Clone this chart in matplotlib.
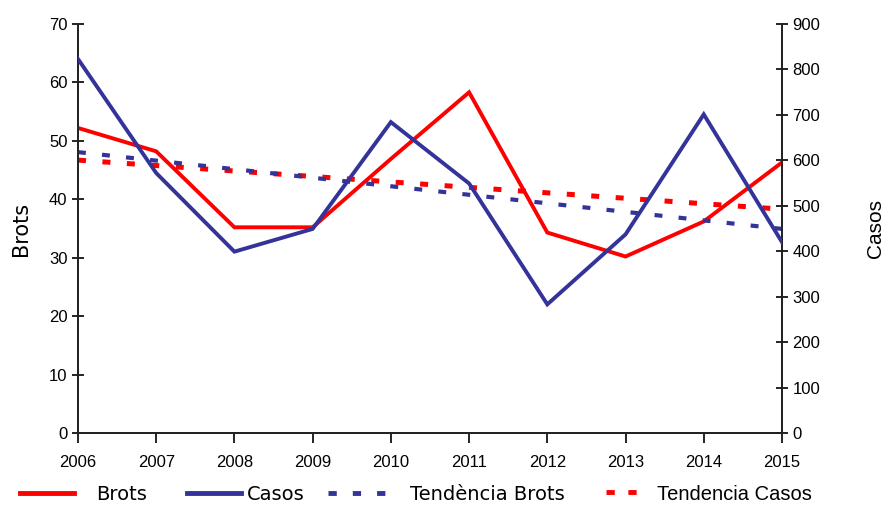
import matplotlib
matplotlib.use("Agg")
import matplotlib.pyplot as plt
from matplotlib.lines import Line2D

# --------------------------------
# DATA
# --------------------------------

years = [2006, 2007, 2008, 2009, 2010, 2011, 2012, 2013, 2014, 2015]
brots = [52.2, 48.2, 35.2, 35.2, 46.9, 58.3, 34.3, 30.2, 36.2, 46.3]
casos = [823, 572, 399, 449, 684, 549, 283, 437, 701, 420]

trend_years = [2006, 2015]
trend_brots = [618, 449]      # blue dashed, drawn on the casos axis
trend_casos = [46.7, 38.3]    # red dashed, drawn on the brots axis

legend_labels = ["Brots", "Casos", "Tendència Brots", "Tendencia Casos"]

red = "#ff0000"
blue = "#333399"

red_dash = (0, (1.6, 3.3))
blue_dash = (0, (1.9, 3.9))

# --------------------------------
# FIGURE
# --------------------------------

fig = plt.figure(figsize=(8.84, 5.05), dpi=100)
ax = fig.add_axes([0.0882, 0.1426, 0.7964, 0.81])
ax2 = ax.twinx()

ax.plot(years, brots, color=red, lw=2.8, solid_joinstyle="miter", zorder=3)
ax.plot(trend_years, trend_casos, color=red, lw=3.6, ls=red_dash, zorder=2)
ax2.plot(years, casos, color=blue, lw=2.8, solid_joinstyle="miter", zorder=3)
ax2.plot(trend_years, trend_brots, color=blue, lw=3.0, ls=blue_dash, zorder=2)

ax.set_xlim(2006, 2015)
ax.set_ylim(0, 70)
ax2.set_ylim(0, 900)
ax.set_xticks(years)
ax.set_yticks(range(0, 71, 10))
ax2.set_yticks(range(0, 901, 100))

for a in (ax, ax2):
    for lab in a.get_xticklabels() + a.get_yticklabels():
        lab.set_fontfamily("Liberation Sans")
        lab.set_fontsize(12)
    a.spines["top"].set_visible(False)
    for s in a.spines.values():
        s.set_color("#222222")
        s.set_linewidth(1.3)

ax.tick_params(axis="y", direction="inout", length=9, width=1.2, pad=3)
ax2.tick_params(axis="y", direction="inout", length=9, width=1.2, pad=3)
ax.tick_params(axis="x", direction="out", length=7, width=1.2, pad=9)

ax.set_ylabel("Brots", fontsize=15, family="DejaVu Sans", labelpad=13)
ax2.set_ylabel("Casos", fontsize=15, family="Liberation Sans", labelpad=33)

# --------------------------------
# LEGEND (one box per entry, uneven spacing as in the original)
# --------------------------------

handles = [
    Line2D([], [], color=red, lw=3.5),
    Line2D([], [], color=blue, lw=3.5),
    Line2D([], [], color=blue, lw=3.5, ls=(0, (1.7, 3.3))),
    Line2D([], [], color=red, lw=3.5, ls=(0, (1.7, 2.8))),
]
entry_x = [20, 187, 328, 606]
entry_len = [2.8, 2.8, 3.0, 1.75]
entry_pad = [1.1, 0.3, 1.2, 0.8]
entry_font = ["DejaVu Sans", "DejaVu Sans", "DejaVu Sans", "Liberation Sans"]
entry_size = [14, 14, 14, 14.5]

for h, lab, x0, hl, hp, fam, fs in zip(handles, legend_labels, entry_x,
                                       entry_len, entry_pad, entry_font, entry_size):
    leg = fig.legend([h], [lab], loc="center left",
                     bbox_to_anchor=(x0 / 884, 1 - 494 / 505),
                     frameon=False, borderpad=0, borderaxespad=0,
                     handlelength=hl, handletextpad=hp,
                     prop={"family": fam, "size": fs})

fig.savefig("out.png", dpi=100)
